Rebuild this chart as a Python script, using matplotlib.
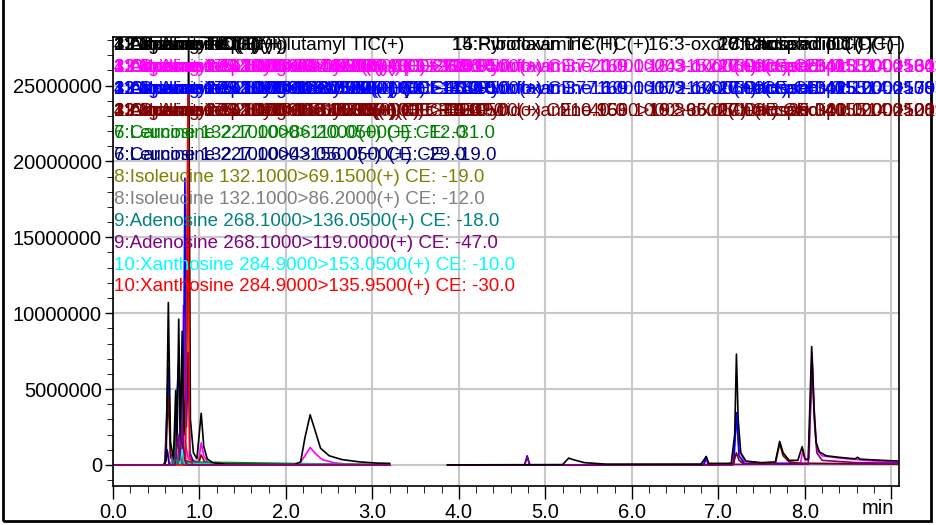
import numpy as np
import matplotlib
matplotlib.use("Agg")
import matplotlib.pyplot as plt
from matplotlib.patches import Rectangle

plt.rcParams['font.family'] = ['Liberation Sans', 'DejaVu Sans']

# chromatogram traces: (time [min], intensity [x1e6])
BLACK_LEFT = [(0.00, 0), (0.58, 0), (0.615, 0.3), (0.64, 10.7), (0.665, 1.5), (0.70, 0.4),
              (0.725, 4.9), (0.74, 1.2), (0.76, 9.6), (0.78, 1.5), (0.80, 8.8), (0.82, 2.0),
              (0.85, 5.5), (0.875, 28.5), (0.895, 3.0), (0.93, 0.8), (0.97, 0.4), (1.02, 3.4),
              (1.05, 1.2), (1.09, 0.4), (1.15, 0.15), (1.3, 0.05), (2.10, 0.03), (2.17, 0.2),
              (2.22, 1.8), (2.28, 3.3), (2.33, 2.4), (2.40, 1.1), (2.50, 0.6), (2.65, 0.35),
              (2.85, 0.2), (3.05, 0.12), (3.2, 0.1)]
BLACK_RIGHT = [(3.87, 0), (5.20, 0.02), (5.27, 0.45), (5.32, 0.35), (5.45, 0.15), (5.7, 0.05),
               (6.80, 0.05), (6.86, 0.55), (6.89, 0.1), (7.15, 0.1), (7.19, 2.0), (7.21, 7.3),
               (7.23, 3.0), (7.26, 0.8), (7.32, 0.25), (7.5, 0.15), (7.66, 0.2), (7.71, 1.55),
               (7.75, 0.8), (7.82, 0.3), (7.92, 0.3), (7.97, 1.2), (8.0, 0.4), (8.04, 0.35),
               (8.08, 7.8), (8.105, 4.0), (8.13, 1.5), (8.17, 0.85), (8.25, 0.6), (8.4, 0.5),
               (8.58, 0.4), (8.61, 0.5), (8.64, 0.38), (8.8, 0.33), (9.09, 0.25)]
MAGENTA_LEFT = [(0, 0), (0.60, 0), (0.63, 0.9), (0.655, 0.1), (0.79, 0.2), (0.815, 10.5),
                (0.835, 1.5), (0.87, 0.4), (0.99, 0.2), (1.02, 1.45), (1.05, 0.6), (1.10, 0.15),
                (1.2, 0.03), (2.15, 0.02), (2.22, 0.6), (2.28, 1.15), (2.34, 0.75), (2.42, 0.35),
                (2.55, 0.15), (2.7, 0.05), (3.2, 0.02)]
MAGENTA_RIGHT = [(3.87, 0), (6.82, 0), (6.86, 0.3), (6.9, 0), (7.17, 0.1), (7.21, 3.2),
                 (7.24, 1.0), (7.3, 0.25), (7.5, 0.1), (7.95, 0.1), (7.98, 1.0), (8.01, 0.3),
                 (8.05, 0.4), (8.085, 7.4), (8.11, 3.5), (8.14, 1.0), (8.2, 0.6), (8.4, 0.45),
                 (8.7, 0.3), (9.09, 0.15)]
BLUE_LEFT = [(0, 0), (0.60, 0), (0.64, 6.5), (0.665, 0.8), (0.70, 0.2), (0.76, 6.9), (0.78, 0.8),
             (0.81, 0.3), (0.832, 18.9), (0.85, 2.5), (0.87, 7.4), (0.89, 0.8), (0.93, 0.2),
             (1.0, 0.05), (3.2, 0)]
BLUE_RIGHT = [(3.87, 0), (4.76, 0), (4.79, 0.6), (4.82, 0), (6.83, 0), (6.86, 0.55), (6.89, 0),
              (7.18, 0.1), (7.21, 3.45), (7.24, 0.6), (7.3, 0.1), (8.6, 0.08), (9.09, 0.1)]
DARKRED_LEFT = [(0, 0), (0.60, 0), (0.64, 4.5), (0.665, 0.5), (0.70, 0.2), (0.72, 2.2),
                (0.74, 0.4), (0.78, 0.3), (0.80, 1.5), (0.82, 0.3), (0.99, 0.1), (1.02, 0.66),
                (1.06, 0.2), (1.12, 0.03), (3.2, 0)]
DARKRED_RIGHT = [(3.87, 0), (7.17, 0), (7.21, 0.8), (7.24, 0.3), (7.3, 0.05), (7.66, 0.1),
                 (7.71, 1.4), (7.75, 0.6), (7.82, 0.2), (7.95, 0.1), (9.09, 0.05)]
GREEN_LEFT = [(0, 0), (0.71, 0), (0.74, 2.5), (0.77, 0.2), (3.2, 0)]
NAVY_LEFT = [(0, 0), (0.60, 0), (0.625, 1.0), (0.65, 0), (0.77, 0), (0.79, 1.8), (0.81, 0), (3.2, 0)]
OLIVE_LEFT = [(0, 0), (0.75, 0), (0.78, 1.5), (0.81, 0.1), (3.2, 0)]
GRAY_LEFT = [(0, 0), (0.67, 0), (0.70, 1.0), (0.73, 0.1), (3.2, 0)]
TEAL_LEFT = [(0, 0), (0.69, 0), (0.72, 1.2), (0.75, 0.1), (3.2, 0)]
PURPLE_LEFT = [(0, 0), (0.72, 0), (0.75, 2.0), (0.77, 0.3), (0.80, 2.8), (0.83, 0.3), (0.86, 0), (3.2, 0)]
PURPLE_RIGHT = [(3.87, 0), (4.76, 0), (4.79, 0.5), (4.82, 0), (8.04, 0.05), (8.087, 6.6),
                (8.11, 3.0), (8.14, 0.8), (8.2, 0.3), (8.6, 0.15), (9.09, 0.1)]
CYAN_LEFT = [(0, 0), (0.77, 0), (0.80, 1.0), (0.83, 0.05), (3.2, 0)]
RED_LEFT = [(0, 0), (0.84, 0), (0.867, 24.5), (0.885, 0.6), (0.92, 0), (3.2, 0)]

TRACES = [
    (MAGENTA_LEFT, '#FF00FF'), (MAGENTA_RIGHT, '#FF00FF'),
    (BLUE_LEFT, '#0000FF'), (BLUE_RIGHT, '#0000FF'),
    (DARKRED_LEFT, '#800000'), (DARKRED_RIGHT, '#800000'),
    (GREEN_LEFT, '#008000'), (NAVY_LEFT, '#000080'), (OLIVE_LEFT, '#808000'),
    (GRAY_LEFT, '#808080'), (TEAL_LEFT, '#008080'), (CYAN_LEFT, '#00FFFF'),
    (PURPLE_RIGHT, '#800080'),
    (BLACK_LEFT, 'black'), (BLACK_RIGHT, 'black'),
    (RED_LEFT, '#FF0000'), (PURPLE_LEFT, '#800080'),
]

# legend rows (colour, [(x pixel, text), ...])
ROW_COLORS = ['black', '#FF00FF', '#0000FF', '#800000', '#008000', '#000080',
              '#808000', '#808080', '#008080', '#800080', '#00FFFF', '#FF0000']
ROW_TEXTS = [
    [(114, "1:Arginine TIC(+)"), (114, "2:Asparagine TIC(+)"), (114, "3:Glutamine TIC(+)"),
     (114, "4:Citrulline TIC(+)"), (114, "11:Guanosine TIC(+)"), (114, "12:Inosine TIC(+)"),
     (114, "13:N-Acetylaspartylglutamyl TIC(+)"),
     (452, "14:Riboflavin TIC(+)"), (452, "15:Pyridoxamine TIC(+)"), (648, "16:3-oxo-Cholic acid TIC(-)"),
     (718, "20:Lactose TIC(-)"), (718, "17:Phospholipid TIC(-)"), (718, "18:Cholic acid TIC(+)")],
    [(114, "1:Arginine 175.1000>70.1000(+) CE: -27.0"), (114, "2:Asparagine 133.0500>74.0500(+) CE: -16.0"),
     (114, "3:Glutamine 147.1000>84.0500(+) CE: -19.0"), (114, "4:Citrulline 176.1000>70.0500(+) CE: -26.0"),
     (114, "11:Guanosine 284.1000>152.0500(+) CE: -14.0"), (114, "12:Inosine 269.1000>137.0500(+) CE: -17.0"),
     (114, "13:N-Acetylaspartylglutamyl 305.1000>130.0500(+) CE: -20.0"),
     (452, "14:Riboflavin 377.1000>243.1000(+) CE: -26.0"),
     (452, "15:Pyridoxamine 169.1000>152.0500(+) CE: -13.0"), (648, "16:3-oxo-Cholic acid 405.2000>343.2500(-) CE: 32.0"),
     (718, "20:Lactose 341.1000>161.0500(-) CE: 35.0"), (718, "17:Phospholipid 514.2500>80.0500(-) CE: 60.0")],
    [(114, "1:Arginine 175.1000>116.0500(+) CE: -17.0"), (114, "2:Asparagine 133.0500>87.0500(+) CE: -12.0"),
     (114, "3:Glutamine 147.1000>130.0500(+) CE: -12.0"), (114, "4:Citrulline 176.1000>159.0500(+) CE: -13.0"),
     (114, "11:Guanosine 284.1000>135.0500(+) CE: -40.0"), (114, "12:Inosine 269.1000>119.0500(+) CE: -45.0"),
     (114, "13:N-Acetylaspartylglutamyl 305.1000>148.0500(+) CE: -16.0"),
     (452, "14:Riboflavin 377.1000>172.1000(+) CE: -40.0"),
     (452, "15:Pyridoxamine 169.1000>134.0500(+) CE: -25.0"), (648, "16:3-oxo-Cholic acid 405.2000>387.2500(-) CE: 30.0"),
     (718, "20:Lactose 341.1000>179.0500(-) CE: 40.0"), (718, "17:Phospholipid 514.2500>124.0500(-) CE: 52.0")],
    [(114, "1:Arginine 175.1000>158.1000(+) CE: -14.0"), (114, "2:Asparagine 133.0500>115.9500(+) CE: -10.0"),
     (114, "3:Glutamine 147.1000>56.0500(+) CE: -30.0"), (114, "4:Citrulline 176.1000>113.0500(+) CE: -15.0"),
     (114, "11:Guanosine 284.1000>110.0500(+) CE: -49.0"), (114, "12:Inosine 269.1000>110.0000(+) CE: -49.0"),
     (114, "13:N-Acetylaspartylglutamyl 305.1000>112.0500(+) CE: -40.0"),
     (452, "15:Pyridoxamine 169.1000>65.0500(+) CE: -20.0"),
     (560, "210.9560>192.9600(-) CE: 20.0"), (648, "16:3-oxo-Cholic acid 405.2000>289.2500(-) CE: 38.0"),
     (718, "20:Lactose 341.1000>101.0500(-) CE: 42.0"), (718, "17:Phospholipid 514.2500>107.0500(-) CE: 58.0")],
    [(114, "6:Carnosine 227.1000>110.0500(+) CE: -31.0"),
     (114, "7:Leucine 132.1000>86.2000(+) CE: -12.0")],
    [(114, "6:Carnosine 227.1000>156.0500(+) CE: -19.0"),
     (114, "7:Leucine 132.1000>43.0500(+) CE: -29.0")],
    [(114, "8:Isoleucine 132.1000>69.1500(+) CE: -19.0")],
    [(114, "8:Isoleucine 132.1000>86.2000(+) CE: -12.0")],
    [(114, "9:Adenosine 268.1000>136.0500(+) CE: -18.0")],
    [(114, "9:Adenosine 268.1000>119.0000(+) CE: -47.0")],
    [(114, "10:Xanthosine 284.9000>153.0500(+) CE: -10.0")],
    [(114, "10:Xanthosine 284.9000>135.9500(+) CE: -30.0")],
]

X_MAJOR = [0, 1, 2, 3, 4, 5, 6, 7, 8, 9]
X_LABELS = ['0.0', '1.0', '2.0', '3.0', '4.0', '5.0', '6.0', '7.0', '8.0', '']
Y_MAJOR = [0, 5000000, 10000000, 15000000, 20000000, 25000000]

W, H = 936, 525
fig = plt.figure(figsize=(W / 100, H / 100), dpi=100)
ax = fig.add_axes([113 / W, 1 - 486 / H, (899 - 113) / W, (486 - 37) / H])

for pts, col in TRACES:
    t = np.array([p[0] for p in pts])
    v = np.array([p[1] for p in pts]) * 1e6
    ax.plot(t, v, color=col, lw=1.2, solid_joinstyle='round')

ax.set_xlim(0, 9.09)
ax.set_ylim(-1.39e6, 28.2e6)
ax.set_xticks(X_MAJOR)
ax.set_xticklabels(X_LABELS)
ax.set_xticks(np.arange(0, 9.1, 0.2), minor=True)
ax.set_yticks(Y_MAJOR)
ax.set_yticklabels([str(v) for v in Y_MAJOR])
ax.set_yticks(np.arange(-1e6, 28.1e6, 1e6), minor=True)
ax.grid(True, which='major', color='#c8c8c8', lw=1.5)
ax.set_axisbelow(True)
ax.tick_params(axis='both', which='major', labelsize=14.5, width=1, color='black')
ax.tick_params(axis='x', which='major', length=9, pad=3)
ax.tick_params(axis='x', which='minor', length=5)
ax.tick_params(axis='y', which='major', length=6, pad=2)
ax.tick_params(axis='y', which='minor', length=4)
for s in ax.spines.values():
    s.set_linewidth(1.2)

fig.text(878 / W, 1 - 508 / H, 'min', fontsize=14.5, ha='center', va='center')

for i, (col, items) in enumerate(zip(ROW_COLORS, ROW_TEXTS)):
    y = 46 + 21.9 * i
    for x, s in items:
        fig.text(x / W, 1 - y / H, s, color=col, fontsize=13.5, ha='left', va='center')

fig.add_artist(Rectangle((3 / W, 4 / H), 928 / W, 1.0, transform=fig.transFigure,
                         fill=False, lw=2, ec='black'))

fig.savefig('out.png', dpi=100)
